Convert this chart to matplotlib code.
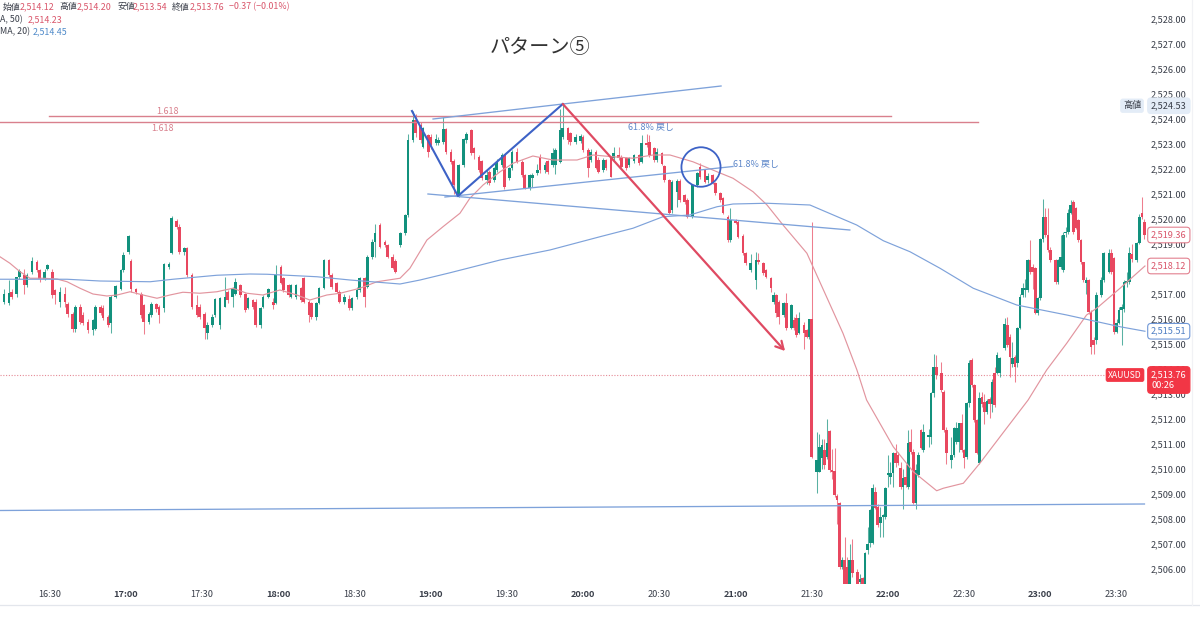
import numpy as np
import matplotlib
matplotlib.use("Agg")
import matplotlib.pyplot as plt
from matplotlib.patches import Ellipse

plt.rcParams["font.family"] = ["Noto Sans CJK JP", "DejaVu Sans"]

# =========================
# Candles (minutes after 16:00, prices above 2500)
# =========================

base_price = 2500.0

bar_minutes = [
    10, 12, 14, 15, 17, 18, 20, 21, 23, 25, 26, 28, 29, 31, 32, 34, 36, 37, 39, 40,
    42, 43, 45, 47, 48, 50, 51, 53, 54, 56, 58, 59, 61, 62, 64, 66, 67, 69, 70, 72,
    73, 75, 77, 78, 80, 81, 83, 84, 86, 88, 89, 91, 92, 94, 95, 97, 99, 100, 102, 103,
    105, 107, 108, 110, 111, 113, 114, 116, 118, 119, 121, 122, 124, 125, 127, 129, 130, 132, 133, 135,
    136, 138, 140, 141, 143, 144, 146, 148, 149, 151, 152, 154, 155, 157, 158, 160, 162, 163, 165, 166,
    168, 170, 171, 173, 174, 176, 177, 179, 180, 182, 183, 185, 186, 188, 189, 191, 193, 194, 196, 197,
    199, 200, 202, 203, 205, 206, 208, 209, 211, 212, 214, 216, 217, 219, 220, 222, 223, 225, 226, 228,
    229, 231, 232, 234, 235, 237, 239, 240, 242, 243, 245, 246, 248, 249, 251, 252, 254, 255, 257, 258,
    260, 262, 263, 265, 266, 268, 269, 271, 272, 274, 275, 277, 278, 280, 281, 283, 285, 286, 288, 289,
    291, 292, 294, 295, 297, 298, 300, 301, 303, 304, 306, 308, 309, 311, 312, 314, 315, 316, 317, 319,
    320, 322, 323, 324, 325, 327, 328, 329, 330, 332, 333, 334, 335, 336, 337, 338, 339, 340, 341, 342,
    343, 344, 345, 346, 348, 349, 350, 351, 352, 353, 354, 355, 356, 357, 358, 359, 360, 361, 362, 363,
    364, 365, 366, 367, 368, 369, 370, 371, 372, 373, 374, 376, 377, 378, 379, 381, 382, 383, 385, 386,
    387, 388, 389, 390, 391, 392, 393, 394, 395, 396, 397, 398, 399, 400, 401, 402, 403, 404, 406, 407,
    408, 409, 410, 411, 412, 413, 414, 415, 416, 417, 418, 419, 420, 421, 422, 423, 424, 426, 427, 428,
    429, 430, 431, 432, 433, 434, 435, 436, 437, 438, 439, 440, 441, 442, 444, 445, 447, 448, 449, 450,
    451, 452, 453, 454, 455, 456, 458, 459, 460, 461,
]

opens = [
    17.56, 16.7, 16.63, 17.1, 17.0, 17.67, 17.76, 17.36, 17.9, 18.3,
    17.96, 17.6, 18.0, 17.9, 17.15, 16.7, 17.0, 16.6, 16.2, 15.6,
    16.5, 16.15, 15.9, 15.55, 15.6, 16.5, 16.45, 16.1, 15.83, 16.9,
    17.2, 17.95, 18.7, 18.3, 17.2, 17.0, 16.55, 15.9, 16.15, 16.6,
    16.5, 16.43, 18.1, 18.66, 19.93, 19.7, 18.7, 18.83, 17.76, 16.55,
    16.5, 16.2, 15.43, 15.76, 16.15, 15.76, 16.5, 17.1, 16.9, 17.0,
    17.36, 17.0, 16.43, 16.76, 16.7, 15.76, 16.5, 16.9, 16.7, 16.63,
    18.1, 17.63, 17.36, 16.9, 16.9, 17.23, 17.63, 16.7, 16.63, 16.1,
    16.63, 17.23, 18.36, 17.76, 17.43, 17.1, 16.7, 16.8, 16.43, 16.9,
    17.16, 17.63, 17.3, 18.5, 19.1, 19.76, 19.1, 18.96, 18.5, 18.3,
    18.96, 19.43, 20.16, 23.16, 23.96, 23.76, 22.9, 23.36, 23.3, 23.03,
    23.06, 23.1, 23.6, 22.7, 22.3, 20.9, 22.16, 23.16, 23.56, 22.83,
    22.5, 22.3, 21.56, 21.9, 21.56, 21.96, 22.16, 22.56, 21.63, 22.03,
    22.7, 22.3, 21.76, 21.23, 21.66, 21.83, 22.5, 21.96, 22.3, 22.16,
    22.16, 22.3, 23.3, 23.63, 23.43, 23.1, 23.13, 23.3, 22.76, 22.36,
    22.7, 22.36, 21.96, 22.36, 22.43, 22.43, 22.56, 22.5, 22.43, 22.16,
    22.33, 22.56, 22.3, 23.03, 23.1, 22.83, 22.36, 22.63, 22.12, 21.56,
    20.36, 21.1, 21.53, 20.96, 20.76, 20.12, 21.36, 22.1, 21.96, 21.56,
    21.76, 21.43, 21.03, 20.83, 20.1, 19.16, 19.92, 19.9, 19.3, 18.63,
    17.96, 17.56, 18.36, 18.23, 17.96, 17.63, 16.7, 16.96, 16.7, 16.16,
    16.63, 15.63, 15.96, 16.03, 15.43, 15.76, 15.56, 15.3, 15.99, 9.9,
    9.9, 10.43, 10.76, 10.5, 11.53, 9.96, 9.93, 8.92, 8.63, 6.09,
    6.36, 6.1, 5.4, 6.36, 5.9, 5.5, 5.63, 5.4, 6.76, 7.03,
    7.03, 9.09, 8.49, 7.83, 8.09, 8.09, 9.76, 9.7, 9.83, 10.63,
    10.56, 10.03, 9.27, 9.7, 9.3, 11.1, 10.7, 8.63, 9.76, 11.56,
    10.76, 11.29, 11.29, 13.05, 14.09, 13.83, 13.09, 11.56, 10.36, 10.56,
    11.09, 11.09, 11.83, 10.76, 10.49, 12.63, 14.36, 13.36, 11.96, 10.23,
    12.9, 12.7, 12.3, 12.8, 12.6, 13.83, 13.83, 13.83, 14.83, 15.76,
    15.29, 14.2, 14.49, 14.23, 15.63, 16.96, 17.16, 17.16, 18.36, 18.09,
    18.03, 16.23, 16.83, 19.2, 20.09, 19.36, 18.76, 18.36, 17.49, 18.09,
    17.96, 19.43, 19.5, 20.23, 20.7, 20.43, 19.96, 19.16, 18.29, 17.43,
    17.56, 16.29, 15.16, 15.16, 16.96, 17.56, 17.9, 18.63, 18.43, 15.5,
    15.83, 16.36, 16.4, 17.45, 17.5, 18.6, 18.35, 19.03, 20.23, 19.9,
]

closes = [
    16.83, 17.0, 17.03, 16.9, 17.67, 17.9, 17.36, 17.76, 18.3, 17.96,
    17.6, 17.9, 18.15, 16.96, 16.96, 17.1, 16.7, 16.2, 15.6, 16.5,
    15.9, 15.85, 15.55, 15.95, 16.5, 16.25, 16.05, 15.76, 16.9, 17.3,
    17.95, 18.55, 19.3, 17.2, 17.1, 16.15, 15.9, 16.2, 16.6, 16.4,
    16.15, 18.2, 18.2, 20.03, 19.7, 18.7, 18.83, 17.76, 16.5, 16.15,
    16.1, 15.63, 15.76, 16.1, 16.8, 16.83, 16.9, 16.76, 17.2, 17.5,
    16.96, 16.36, 16.83, 16.5, 15.76, 16.43, 16.9, 17.2, 16.56, 17.76,
    17.43, 17.16, 16.96, 17.36, 17.36, 16.76, 16.7, 16.16, 16.1, 16.63,
    17.23, 18.36, 17.76, 17.3, 17.1, 16.7, 16.9, 16.43, 16.83, 17.16,
    17.63, 16.9, 18.5, 19.1, 19.43, 18.9, 18.96, 18.5, 18.03, 17.9,
    19.43, 20.16, 23.16, 23.96, 23.43, 23.16, 23.63, 22.7, 22.96, 23.2,
    23.16, 23.6, 22.7, 22.3, 21.36, 22.16, 23.2, 23.4, 22.63, 22.63,
    21.96, 21.63, 21.76, 21.43, 22.03, 22.3, 22.56, 21.3, 22.03, 22.7,
    22.3, 21.76, 21.23, 21.76, 21.76, 21.96, 21.96, 22.16, 21.9, 22.63,
    22.76, 23.56, 23.66, 23.16, 23.1, 23.3, 23.3, 22.76, 22.03, 22.7,
    22.03, 21.9, 22.36, 22.03, 21.7, 22.63, 22.43, 22.1, 22.03, 22.43,
    22.56, 22.23, 23.03, 22.96, 22.56, 22.36, 22.7, 22.2, 21.56, 20.23,
    21.5, 21.53, 20.76, 20.7, 20.1, 21.36, 21.83, 21.7, 21.5, 21.72,
    21.43, 21.03, 20.76, 20.25, 19.16, 19.96, 19.85, 19.3, 18.63, 18.23,
    18.26, 18.36, 18.3, 17.83, 17.7, 17.23, 16.96, 16.23, 16.1, 16.63,
    15.63, 16.56, 15.63, 15.36, 16.03, 15.43, 15.3, 15.99, 10.5, 10.36,
    10.9, 10.96, 10.16, 11.03, 9.96, 9.9, 8.96, 8.76, 6.09, 6.36,
    5.4, 5.4, 6.36, 5.83, 5.4, 5.6, 5.4, 6.63, 7.0, 8.36,
    9.23, 8.43, 7.76, 8.09, 8.16, 9.23, 9.85, 9.85, 10.63, 10.23,
    10.23, 9.29, 9.63, 9.36, 11.03, 10.7, 8.63, 9.96, 10.56, 10.83,
    11.49, 11.36, 13.05, 14.1, 13.76, 13.16, 11.56, 10.63, 10.56, 11.63,
    11.63, 11.83, 10.76, 10.43, 12.63, 14.23, 13.36, 11.96, 10.63, 12.83,
    12.6, 12.3, 12.73, 12.6, 13.5, 12.56, 14.56, 14.43, 15.8, 14.96,
    14.49, 14.43, 14.09, 15.63, 16.89, 17.23, 17.23, 18.36, 17.89, 17.89,
    16.23, 16.83, 19.2, 20.09, 19.36, 18.76, 18.36, 17.49, 18.36, 18.49,
    19.36, 19.5, 20.23, 20.56, 19.5, 19.63, 19.16, 18.29, 17.56, 17.56,
    16.29, 14.89, 14.96, 16.96, 17.56, 18.63, 18.63, 17.9, 15.5, 15.83,
    16.36, 16.5, 17.49, 17.5, 18.63, 18.4, 19.03, 20.1, 20.09, 19.36,
]

highs = [
    17.9, 17.2, 17.56, 17.2, 17.7, 18.0, 18.0, 17.85, 18.5, 18.35,
    18.0, 18.0, 18.2, 18.0, 17.2, 17.3, 17.3, 16.7, 16.3, 16.55,
    16.6, 16.3, 16.0, 16.0, 16.55, 16.55, 16.55, 16.15, 16.95, 17.35,
    18.0, 18.7, 19.35, 18.4, 17.25, 17.1, 16.6, 16.3, 16.7, 16.65,
    16.55, 18.25, 18.3, 20.12, 20.0, 19.8, 18.9, 18.9, 17.85, 16.95,
    16.6, 16.3, 15.9, 16.2, 16.85, 16.9, 17.7, 17.15, 17.3, 17.65,
    17.4, 17.05, 16.9, 16.8, 16.8, 16.5, 16.95, 17.25, 16.85, 18.15,
    18.15, 17.7, 17.4, 17.4, 17.4, 17.3, 17.7, 16.75, 16.7, 16.7,
    17.3, 18.4, 18.4, 17.85, 17.5, 17.15, 17.0, 16.95, 16.9, 17.3,
    17.7, 17.7, 18.55, 19.2, 19.8, 19.85, 19.15, 19.0, 18.6, 18.4,
    19.5, 20.2, 23.4, 24.33, 24.2, 23.9, 23.7, 23.4, 23.4, 23.4,
    23.3, 24.1, 23.65, 22.8, 22.4, 22.2, 23.25, 23.5, 23.6, 22.9,
    22.55, 22.35, 21.95, 21.95, 22.1, 22.4, 22.65, 22.6, 22.1, 22.75,
    22.85, 22.35, 21.8, 21.8, 21.85, 22.2, 22.6, 22.3, 22.35, 22.85,
    22.85, 24.4, 24.56, 23.7, 23.5, 23.4, 23.4, 23.35, 22.85, 22.8,
    22.75, 22.5, 22.45, 22.4, 22.5, 22.9, 22.9, 22.55, 22.5, 22.5,
    22.6, 22.6, 23.35, 23.4, 23.35, 22.9, 22.85, 22.7, 22.15, 21.6,
    21.55, 21.6, 21.6, 21.0, 20.85, 21.4, 21.9, 22.25, 22.0, 21.85,
    21.8, 21.5, 21.1, 20.9, 20.15, 20.43, 20.0, 19.95, 19.4, 18.7,
    18.6, 18.7, 18.65, 18.3, 18.0, 17.7, 17.1, 17.0, 16.75, 16.7,
    17.05, 16.6, 16.1, 16.2, 16.3, 15.9, 15.6, 16.0, 19.9, 11.5,
    11.4, 11.2, 11.2, 12.0, 11.55, 10.8, 10.83, 9.0, 8.7, 6.5,
    7.3, 6.5, 7.0, 7.2, 6.0, 5.8, 5.7, 6.7, 7.7, 8.4,
    9.4, 9.3, 8.6, 8.5, 8.2, 9.3, 10.55, 10.3, 10.7, 11.0,
    10.7, 10.3, 10.0, 10.2, 11.55, 11.6, 10.8, 10.2, 10.7, 11.6,
    11.8, 11.6, 13.1, 14.6, 14.55, 14.3, 13.15, 11.7, 11.3, 11.7,
    11.9, 11.85, 12.2, 10.8, 12.7, 14.35, 14.45, 13.4, 12.0, 13.1,
    13.1, 13.0, 12.8, 12.9, 13.6, 14.1, 14.7, 14.5, 16.05, 16.1,
    15.4, 15.1, 14.55, 15.7, 17.0, 17.45, 17.6, 18.4, 19.15, 18.2,
    18.1, 16.9, 19.25, 20.8, 20.45, 20.45, 18.9, 18.4, 18.4, 19.35,
    19.5, 19.7, 20.4, 20.76, 20.76, 20.5, 20.0, 19.2, 18.3, 17.7,
    17.6, 16.35, 15.3, 17.1, 17.7, 18.7, 18.8, 18.8, 18.5, 16.0,
    16.5, 16.6, 17.55, 17.9, 18.9, 19.0, 19.1, 20.2, 20.89, 20.0,
]

lows = [
    16.6, 16.6, 16.56, 16.8, 16.9, 17.6, 17.0, 17.3, 17.8, 17.9,
    17.5, 17.55, 17.95, 16.85, 16.6, 16.5, 16.5, 16.1, 15.5, 15.5,
    15.8, 15.75, 15.45, 15.35, 15.55, 16.15, 15.95, 15.7, 15.45, 16.85,
    17.15, 17.9, 18.6, 17.1, 17.0, 16.05, 15.4, 15.8, 16.1, 16.3,
    15.85, 16.3, 18.0, 18.6, 19.6, 18.6, 18.55, 17.7, 16.4, 16.1,
    16.0, 15.2, 15.2, 15.7, 16.1, 15.6, 16.5, 16.65, 16.5, 16.95,
    16.9, 16.3, 16.4, 16.4, 15.7, 15.65, 16.45, 16.85, 16.4, 16.6,
    17.4, 17.1, 16.9, 16.85, 16.8, 16.7, 16.65, 15.9, 16.0, 15.95,
    16.6, 17.2, 17.7, 17.2, 17.05, 16.65, 16.6, 16.35, 16.35, 16.8,
    17.1, 16.5, 17.25, 18.4, 18.5, 18.85, 18.9, 18.45, 18.0, 17.85,
    18.9, 19.35, 20.1, 23.1, 23.3, 23.05, 22.85, 22.5, 22.8, 22.95,
    22.95, 23.0, 22.6, 22.2, 21.0, 20.9, 22.1, 23.05, 22.55, 22.4,
    21.9, 21.55, 21.4, 21.35, 21.5, 21.9, 22.1, 21.2, 21.55, 21.95,
    22.25, 21.7, 21.2, 21.15, 21.3, 21.75, 21.85, 21.85, 21.8, 22.1,
    21.8, 22.25, 23.2, 23.0, 22.95, 23.0, 23.05, 22.7, 21.7, 22.3,
    22.0, 21.85, 21.9, 21.96, 21.7, 22.35, 22.35, 22.0, 21.95, 22.1,
    22.25, 22.15, 22.25, 22.9, 22.5, 22.3, 22.3, 22.15, 21.5, 20.2,
    20.25, 20.5, 20.7, 20.6, 20.05, 20.05, 21.3, 21.6, 21.45, 21.45,
    21.4, 20.95, 20.7, 20.2, 19.1, 19.1, 19.8, 19.25, 18.55, 18.15,
    17.9, 17.2, 18.2, 17.75, 17.65, 17.1, 16.6, 16.1, 15.8, 16.1,
    15.55, 15.6, 15.55, 15.3, 15.4, 14.8, 15.25, 15.2, 10.45, 9.03,
    9.9, 10.0, 10.0, 10.4, 9.9, 9.6, 8.9, 7.8, 6.0, 6.0,
    5.3, 5.3, 5.3, 5.7, 5.3, 5.3, 5.3, 5.3, 6.6, 6.9,
    7.0, 8.4, 7.7, 7.3, 7.3, 8.0, 9.3, 9.4, 9.3, 10.1,
    10.15, 9.2, 8.4, 9.3, 9.2, 10.6, 8.6, 8.4, 9.7, 10.8,
    10.7, 10.9, 11.0, 12.9, 13.6, 13.1, 11.5, 10.2, 10.05, 10.5,
    11.0, 10.7, 10.7, 10.05, 10.4, 12.5, 13.3, 11.9, 10.6, 10.2,
    12.5, 11.8, 12.2, 12.05, 12.3, 12.5, 13.8, 13.7, 14.75, 14.9,
    13.7, 14.1, 13.5, 14.1, 15.6, 16.9, 16.9, 17.1, 17.8, 17.2,
    16.2, 16.15, 16.75, 19.1, 19.3, 18.7, 18.3, 17.4, 17.4, 18.0,
    17.9, 19.3, 19.4, 20.2, 19.4, 19.6, 19.1, 18.2, 17.5, 17.0,
    16.2, 14.6, 14.6, 15.0, 16.9, 17.5, 17.85, 17.8, 15.4, 15.45,
    15.8, 14.96, 16.3, 17.3, 17.4, 18.3, 18.3, 19.0, 20.0, 19.2,
]

# =========================
# Moving averages
# =========================

red_ma_minutes = [
    10.4, 14.3, 18.3, 22.2, 27.3, 32.8, 36.8, 41.9, 47, 52.5, 56.5, 61.6, 66.7, 72.2, 77.3,
    82.4, 89.1, 95.8, 102.1, 107.6, 113.9, 120.6, 127.3, 132.4, 139.1, 144.3, 152.1, 158.8,
    167.9, 171.8, 178.5, 184.8, 191.5, 195.4, 200.6, 207.3, 212.4, 220.2, 228.1, 237.6,
    243.9, 251.7, 259.6, 267.5, 274.2, 283.2, 292.7, 299, 306.9, 312.4, 318.7, 328.1,
    342.3, 347.8, 351.6, 362.1, 370, 379.2, 381.8, 389.7, 396.2, 406.7, 415.2, 422.5,
    430.4, 438.2, 442.2, 451.4, 461.2,
]
red_ma_values = [
    18.49, 18.23, 17.89, 17.63, 17.63, 17.6, 17.49, 17.23, 17.0, 16.92, 16.96, 17.09, 16.96, 16.83, 16.96,
    17.07, 17.03, 17.09, 17.23, 17.03, 16.96, 17.16, 16.96, 16.76, 16.96, 17.03, 17.23, 17.49,
    17.63, 18.03, 19.16, 19.69, 20.23, 20.83, 21.36, 21.89, 22.23, 22.52, 22.36, 22.36,
    22.56, 22.49, 22.43, 22.56, 22.56, 22.29, 21.89, 21.63, 21.09, 20.56, 19.76, 18.63,
    15.43, 13.96, 12.76, 10.89, 9.89, 9.13, 9.23, 9.43, 10.23, 11.63, 12.76, 13.96,
    15.03, 16.16, 16.43, 17.23, 18.12,
]

blue_ma_minutes = [
    10.4, 36.8, 49.8, 69.5, 78.5, 95.8, 108.8, 115.5, 135.2, 148.2, 167.9, 175.8, 187.6,
    207.3, 226.9, 246.6, 259.6, 271.4, 282, 292.7, 299, 312.4, 329.3, 338.5, 347.7, 358.2,
    368.7, 380.5, 393.6, 410.7, 430.4, 451.4, 461.2,
]
blue_ma_values = [
    17.59, 17.59, 17.52, 17.49, 17.59, 17.75, 17.8, 17.79, 17.69, 17.56, 17.4, 17.56, 17.85,
    18.36, 18.76, 19.29, 19.63, 20.09, 20.16, 20.49, 20.6, 20.63, 20.56, 20.16, 19.76, 19.13,
    18.69, 18.03, 17.23, 16.56, 16.16, 15.69, 15.51,
]

# =========================
# Hand-drawn lines
# =========================

zigzag_minutes = [172.6, 190.7, 232]
zigzag_values = [24.32, 20.92, 24.6]

rising_minutes = [180.9, 232, 294.3]
rising_values = [24.0, 24.6, 25.32]

channel_minutes = [185.6, 299]
channel_values = [20.88, 22.1]

falling_minutes = [178.9, 345]
falling_values = [21.0, 19.56]

support_minutes = [10.4, 461]
support_values = [8.34, 8.6]

fib_upper = (29.7, 361.2, 24.14)
fib_lower = (10.4, 395.4, 23.9)

arrow_start = (232, 24.6)
arrow_end = (319.5, 14.72)

circle_center = (286.4, 22.08)

# =========================
# Axis and labels
# =========================

price_ticks = list(range(2506, 2529))
hidden_price_tick = 2518
time_ticks = [30, 60, 90, 120, 150, 180, 210, 240, 270, 300, 330, 360, 390, 420, 450]
time_labels = ["16:30", "17:00", "17:30", "18:00", "18:30", "19:00", "19:30", "20:00",
               "20:30", "21:00", "21:30", "22:00", "22:30", "23:00", "23:30"]

last_price = 2513.76
high_price = 2524.53
ma_label_red = 2518.12
ma_label_blue = 2515.51
bar_label = 2519.36

up_color = "#12917d"
down_color = "#e8475f"
red_line = "#e2959f"
blue_line = "#7ea2da"
drawn_blue = "#3d62c6"
drawn_red = "#df4a62"
fib_red = "#d9808d"
text_dark = "#3a3f4a"

# =========================
# Plot
# =========================

fig = plt.figure(figsize=(12, 6.31), dpi=100)
ax = fig.add_axes([0, 1 - 584 / 631, 1148 / 1200, 584 / 631])

t = np.array(bar_minutes, dtype=float)
o = base_price + np.array(opens)
c = base_price + np.array(closes)
h = base_price + np.array(highs)
l = base_price + np.array(lows)
rising = c >= o
colors = np.where(rising, up_color, down_color)

ax.vlines(t, l, h, colors=colors, linewidth=0.75, alpha=0.7, zorder=2)
ax.bar(t, np.maximum(np.abs(c - o), 0.06), bottom=np.minimum(o, c), width=1.05,
       color=colors, linewidth=0, zorder=3)

ax.plot(red_ma_minutes, base_price + np.array(red_ma_values), color=red_line, lw=0.85, zorder=4)
ax.plot(blue_ma_minutes, base_price + np.array(blue_ma_values), color=blue_line, lw=0.85, zorder=4)

# fib lines
for start, end, value in [fib_upper, fib_lower]:
    ax.plot([start, end], [base_price + value] * 2, color=fib_red, lw=1.0, zorder=4)
ax.text(76.5, base_price + 24.3, "1.618", color=fib_red, fontsize=6.5, ha="center", va="center")
ax.text(74.5, base_price + 23.63, "1.618", color=fib_red, fontsize=6.5, ha="center", va="center")

# trend lines
ax.plot(rising_minutes, base_price + np.array(rising_values), color=blue_line, lw=0.95, zorder=5)
ax.plot(channel_minutes, base_price + np.array(channel_values), color=blue_line, lw=0.95, zorder=5)
ax.plot(falling_minutes, base_price + np.array(falling_values), color=blue_line, lw=0.95, zorder=5)
ax.plot(support_minutes, base_price + np.array(support_values), color=blue_line, lw=0.95, zorder=5)
ax.plot(zigzag_minutes, base_price + np.array(zigzag_values), color=drawn_blue, lw=1.5, zorder=6)

ax.annotate(
    "",
    xy=(arrow_end[0], base_price + arrow_end[1]),
    xytext=(arrow_start[0], base_price + arrow_start[1]),
    arrowprops=dict(arrowstyle="->,head_length=0.55,head_width=0.3", color=drawn_red, lw=1.6,
                    shrinkA=0, shrinkB=0),
    zorder=6,
)

ax.add_patch(Ellipse((circle_center[0], base_price + circle_center[1]), 15.4, 1.58,
                     fill=False, ec=drawn_blue, lw=1.3, zorder=6))

ax.text(266.8, base_price + 23.65, "61.8% 戻し", color="#5c86c9", fontsize=6.5, ha="center", va="center")
ax.text(308, base_price + 22.2, "61.8% 戻し", color="#5c86c9", fontsize=6.5, ha="center", va="center")

ax.text(223, base_price + 26.85, "パターン⑤", color="#333333", fontsize=14.5, ha="center", va="center")

# last price line
ax.axhline(last_price, xmax=1106 / 1148, color="#e58a96", lw=0.8, ls=(0, (1, 1.5)), zorder=1)

ax.set_xlim(10.4, 462.4)
ax.set_ylim(2505.4, 2528.76)

for side in ["top", "left", "bottom", "right"]:
    ax.spines[side].set_visible(False)

ax.yaxis.tick_right()
ax.set_yticks(price_ticks)
ax.set_yticklabels(["" if p == hidden_price_tick else f"{p:,.2f}" for p in price_ticks],
                   fontsize=6.6, color=text_dark)
ax.tick_params(axis="y", length=0, pad=2.2)

ax.set_xticks(time_ticks)
ax.set_xticklabels(time_labels, fontsize=6.6, color=text_dark)
ax.tick_params(axis="x", length=0, pad=4)
for label in ax.get_xticklabels():
    if label.get_text().endswith(":00"):
        label.set_fontweight("bold")

# price tags on the axis
tag_transform = ax.get_yaxis_transform()


def price_tag(value, text, edge, face, color):
    ax.text(1151 / 1148, value, text, transform=tag_transform, fontsize=6.6, color=color,
            ha="left", va="center", clip_on=False, zorder=20,
            bbox=dict(boxstyle="round,pad=0.36", fc=face, ec=edge, lw=0.8))


price_tag(high_price, f"{high_price:,.2f}", "#e3ecf7", "#e3ecf7", text_dark)
price_tag(bar_label, f"{bar_label:,.2f}", "#e2808f", "white", "#d9556a")
price_tag(ma_label_red, f"{ma_label_red:,.2f}", "#e2808f", "white", "#d9556a")
price_tag(ma_label_blue, f"{ma_label_blue:,.2f}", "#6f97d6", "white", "#4f7fc4")

ax.text(1151 / 1148, last_price - 0.2, f"{last_price:,.2f}\n00:26", transform=tag_transform,
        fontsize=6.6, color="white", ha="left", va="center", linespacing=1.3, zorder=20,
        bbox=dict(boxstyle="round,pad=0.36", fc="#f23645", ec="#f23645", lw=0.8))
ax.text(1125 / 1148, last_price, "XAUUSD", transform=tag_transform, fontsize=6.2, color="white",
        ha="center", va="center", zorder=20,
        bbox=dict(boxstyle="round,pad=0.25", fc="#f23645", ec="#f23645", lw=0.5))
ax.text(1132 / 1148, high_price, "高値", transform=tag_transform, fontsize=6.6, color=text_dark,
        ha="center", va="center", zorder=20,
        bbox=dict(boxstyle="round,pad=0.25", fc="#e3ecf7", ec="#e3ecf7", lw=0.5))

# legend rows at the top
row1 = 1 - 7 / 631
row2 = 1 - 20 / 631
row3 = 1 - 32 / 631
legend_red = "#d9556a"
legend_blue = "#4f8ac9"
for x_px, text, color, y in [
    (3, "始値", text_dark, row1), (20, "2,514.12", legend_red, row1),
    (59, "高値", text_dark, row1), (77, "2,514.20", legend_red, row1),
    (117, "安値", text_dark, row1), (133, "2,513.54", legend_red, row1),
    (172, "終値", text_dark, row1), (190, "2,513.76", legend_red, row1),
    (229, "−0.37 (−0.01%)", legend_red, row1),
    (0, "A, 50)", text_dark, row2), (28, "2,514.23", legend_red, row2),
    (0, "MA, 20)", text_dark, row3), (33, "2,514.45", legend_blue, row3),
]:
    fig.text(x_px / 1200, y, text, color=color, fontsize=6.4, ha="left", va="center")

# thin frame lines of the chart area
fig.add_artist(plt.Line2D([0, 1], [1 - 605 / 631] * 2, color="#e3e6ec", lw=0.9))
fig.add_artist(plt.Line2D([1192 / 1200] * 2, [1 - 605 / 631, 1], color="#f1f2f5", lw=0.9))

fig.savefig("out.png", dpi=100)
